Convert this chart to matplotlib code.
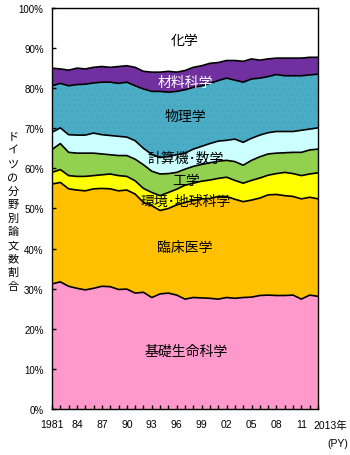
import numpy as np
import matplotlib
matplotlib.use("Agg")
import matplotlib.pyplot as plt
from matplotlib.transforms import ScaledTranslation

plt.rcParams['font.family'] = ['Liberation Sans', 'Noto Sans CJK JP', 'DejaVu Sans']
plt.rcParams['hatch.linewidth'] = 0.4

years = list(range(1981, 2014))

# 分野別シェア(%)
life = [31.2, 31.7, 30.6, 30.1, 29.7, 30.1, 30.6, 30.5, 29.8, 29.9, 28.9, 29.1, 27.8, 28.7, 28.9, 28.4, 27.4,
        27.8, 27.7, 27.6, 27.4, 27.8, 27.6, 27.8, 27.9, 28.3, 28.4, 28.3, 28.3, 28.4, 27.4, 28.4, 28.1]
clinical = [24.9, 24.8, 24.3, 24.5, 24.7, 24.8, 24.4, 24.4, 24.6, 24.7, 24.7, 22.4, 22.9, 20.8, 21.1, 22.5, 24.1,
            24.2, 24.7, 24.9, 25.6, 25.2, 24.7, 23.9, 24.2, 24.3, 25.0, 25.2, 24.9, 24.6, 25.0, 24.4, 24.3]
env = [2.9, 3.2, 3.3, 3.4, 3.6, 3.3, 3.4, 3.7, 3.8, 3.4, 3.3, 3.5, 3.3, 3.7, 4.0, 3.9, 4.3,
       4.3, 4.4, 4.6, 4.5, 4.8, 4.7, 4.6, 4.9, 5.0, 4.9, 5.2, 5.8, 5.7, 5.8, 5.8, 6.5]
eng = [5.7, 6.5, 5.8, 5.8, 5.8, 5.6, 5.2, 4.8, 5.0, 5.2, 5.4, 5.9, 5.3, 5.4, 4.7, 4.2, 4.0,
       4.2, 4.2, 4.3, 4.3, 4.2, 4.7, 4.5, 5.0, 5.3, 5.3, 5.1, 4.9, 5.3, 5.8, 6.0, 5.9]
comp = [4.3, 3.9, 4.4, 4.5, 4.5, 5.0, 4.8, 4.8, 4.8, 4.6, 4.6, 4.1, 4.2, 4.1, 4.3, 4.4, 4.0,
        4.3, 4.5, 4.8, 5.0, 5.0, 5.6, 5.7, 5.5, 5.4, 5.3, 5.4, 5.3, 5.2, 5.5, 5.2, 5.3]
phys = [11.6, 11.1, 12.2, 12.6, 12.7, 12.5, 13.1, 13.3, 13.2, 13.7, 13.7, 14.8, 15.7, 16.5, 16.0, 15.8, 15.8,
        15.4, 15.1, 15.0, 15.1, 15.5, 14.7, 15.0, 14.8, 14.2, 14.0, 14.2, 13.9, 13.9, 13.6, 13.5, 13.4]
mat = [4.4, 3.6, 3.9, 4.1, 3.8, 3.9, 3.9, 3.7, 4.2, 4.1, 4.6, 4.4, 4.8, 4.8, 5.2, 4.8, 4.8,
       5.0, 5.0, 5.0, 4.5, 4.4, 4.9, 5.2, 5.0, 4.5, 4.4, 4.1, 4.4, 4.4, 4.4, 4.4, 4.2]
chem = [15.0, 15.2, 15.5, 15.0, 15.2, 14.8, 14.6, 14.8, 14.6, 14.4, 14.8, 15.8, 16.0, 16.0, 15.8, 16.0, 15.6,
        14.8, 14.4, 13.8, 13.6, 13.1, 13.1, 13.3, 12.7, 13.0, 12.7, 12.5, 12.5, 12.5, 12.5, 12.3, 12.3]

series = [life, clinical, env, eng, comp, phys, mat, chem]
colors = ['#ff99cc', '#ffc000', '#ffff00', '#92d050', '#ccffff', '#4bacc6', '#7030a0', '#ffffff']
hatch_cols = ['#ff99cc', '#ffc000', '#ffff00', '#92d050', '#ccffff', '#42a2bc', '#7030a0', '#ffffff']

labels = ['基礎生命科学', '臨床医学', '環境･地球科学', '工学', '計算機･数学', '物理学', '材料科学', '化学']
label_pos = [(1997.1, 14.5), (1997.0, 40.4), (1997.1, 51.9), (1997.1, 57.1),
             (1997.1, 62.8), (1997.0, 73.1), (1997.0, 81.5), (1997.0, 92.0)]
label_col = ['black'] * 6 + ['white', 'black']

tick_years = [1981, 1984, 1987, 1990, 1993, 1996, 1999, 2002, 2005, 2008, 2011, 2013]
tick_text = ['1981', '84', '87', '90', '93', '96', '99', '02', '05', '08', '11', '2013年']

fig = plt.figure(figsize=(3.5, 4.56), dpi=100)
ax = fig.add_axes([0.1486, 0.1009, 0.76, 0.8794])

polys = ax.stackplot(years, series, colors=colors, linewidth=0)
for p, hc, c in zip(polys, hatch_cols, colors):
    if hc != c:
        p.set_hatch('...')
        p.set_edgecolor(hc)

# 境界線
cum = np.cumsum(np.array(series[:-1]), axis=0)
for row in cum:
    ax.plot(years, row, color='black', lw=1.2)

for txt, (x, y), c in zip(labels, label_pos, label_col):
    ax.text(x, y, txt, ha='center', va='center', fontsize=10, color=c,
            family=['Noto Sans CJK JP'])

ax.set_xlim(1981, 2013)
ax.set_ylim(0, 100)
ax.set_yticks(range(0, 101, 10))
ax.set_yticklabels([f'{v}%' for v in range(0, 101, 10)], fontsize=7)
ax.set_xticks(tick_years)
ax.set_xticklabels(tick_text, fontsize=7.5)
ax.set_xticks(years, minor=True)
ax.tick_params(axis='both', which='both', direction='in', length=3, width=1, color='black')
ax.tick_params(axis='y', pad=6)
ax.tick_params(axis='x', pad=7.5)
for sp in ax.spines.values():
    sp.set_linewidth(1)

last = ax.get_xticklabels()[-1]
last.set_transform(last.get_transform() + ScaledTranslation(12 / 100, 0, fig.dpi_scale_trans))

fig.text(348 / 350, 1 - 444 / 456, '(PY)', ha='right', va='center', fontsize=7.5)
fig.text(13 / 350, 1 - 212 / 456, '\n'.join('ドイツの分野別論文数割合'), ha='center', va='center',
         fontsize=8, linespacing=1.45, family=['Noto Sans CJK JP'])

fig.savefig('out.png', dpi=100)
